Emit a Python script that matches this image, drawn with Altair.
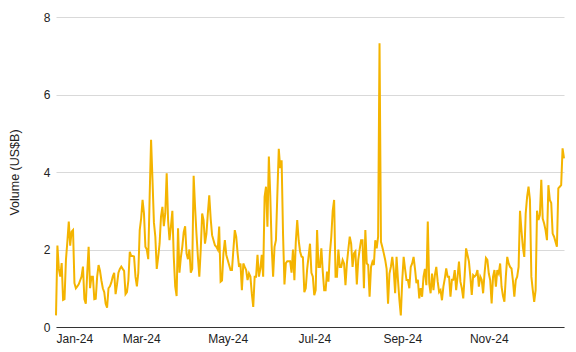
import altair as alt
import pandas as pd

jan = [0.3, 2.1, 1.5, 1.3, 1.65, 0.7, 0.72, 1.73, 2.2, 2.72, 2.1, 2.46, 2.5, 1.13, 1.0, 1.05,
       1.1, 1.2, 1.3, 1.56, 0.72, 0.6, 1.4, 2.07, 1.0, 1.3, 1.3, 0.72, 0.73, 1.3, 1.6]
feb = [1.45, 1.2, 1.0, 0.9, 0.6, 0.5, 1.0, 1.05, 1.15, 1.3, 1.4, 0.85, 1.1, 1.4, 1.5, 1.56,
       1.5, 1.45, 0.85, 0.9, 1.2, 1.94, 1.83, 1.83, 1.82, 1.3, 1.05, 1.4, 2.5]
mar = [2.8, 3.28, 2.93, 2.07, 2.0, 1.75, 3.37, 4.83, 3.8, 2.7, 2.33, 1.5, 1.8, 2.15, 2.85, 3.1,
       2.6, 2.93, 3.97, 2.75, 2.24, 2.6, 3.0, 1.8, 1.05, 0.8, 2.55, 1.4, 1.8, 2.07, 2.45]
apr = [2.6, 1.9, 1.75, 2.0, 1.4, 1.5, 3.9, 3.1, 2.4, 1.81, 1.3, 2.0, 2.93, 2.76, 2.15, 2.4,
       2.93, 3.4, 2.8, 2.37, 2.24, 2.11, 2.07, 2.0, 2.59, 1.17, 1.2, 1.9, 2.24, 1.86]
may = [1.73, 1.6, 1.47, 1.47, 1.99, 2.5, 2.33, 1.9, 1.55, 1.64, 0.95, 1.64, 1.55, 1.47, 1.21,
       1.38, 1.3, 0.86, 0.52, 1.3, 1.3, 1.86, 1.3, 1.5, 1.86, 1.3, 3.36, 3.62, 2.59, 4.4, 3.4]
jun = [2.07, 1.3, 2.07, 2.24, 3.44, 4.6, 4.1, 4.3, 2.4, 1.1, 1.65, 1.7, 1.7, 1.7, 1.4, 2.0,
       1.21, 2.2, 2.76, 2.24, 1.95, 1.82, 1.8, 0.9, 1.0, 1.5, 1.82, 2.15, 1.4, 1.3]
jul = [0.82, 0.95, 2.5, 1.55, 1.55, 2.03, 1.43, 0.95, 0.95, 1.43, 1.17, 1.9, 2.33, 3.0, 3.28,
       1.3, 1.3, 2.0, 1.55, 1.55, 1.73, 1.64, 1.08, 1.64, 2.0, 2.33, 2.15, 1.55, 1.9, 1.95, 1.1]
aug = [1.73, 2.0, 2.24, 2.24, 1.0, 2.5, 1.64, 1.6, 0.78, 1.55, 1.68, 1.6, 2.24, 2.03, 2.33,
       7.32, 2.2, 2.06, 1.9, 1.73, 1.5, 0.6, 1.38, 1.55, 1.81, 1.47, 0.87, 1.81, 1.21, 0.7, 0.3]
sep = [1.2, 1.81, 1.5, 1.21, 1.21, 1.0, 1.55, 1.64, 1.81, 1.5, 1.13, 1.22, 0.74, 1.0, 0.78,
       1.3, 1.5, 1.08, 2.72, 1.13, 0.87, 1.38, 0.95, 1.34, 1.55, 1.17, 0.9, 0.95, 0.69, 1.04]
oct_ = [1.25, 1.51, 1.3, 1.3, 0.78, 1.22, 1.22, 1.47, 0.95, 1.3, 1.69, 1.17, 1.0, 0.74, 1.34,
        2.03, 1.86, 1.69, 1.3, 0.83, 1.34, 1.3, 1.34, 1.47, 1.04, 1.3, 1.22, 0.87, 1.38, 1.78, 1.73]
nov = [1.38, 1.21, 0.61, 1.3, 1.47, 1.04, 1.47, 1.38, 1.64, 1.04, 0.8, 0.65, 1.3, 1.81, 1.64,
       1.55, 1.51, 1.2, 0.78, 1.21, 1.3, 1.55, 3.0, 2.5, 2.07, 1.81, 2.93, 3.36, 3.62, 3.28]
dec = [1.3, 0.95, 0.65, 0.95, 3.0, 2.76, 2.89, 3.8, 2.8, 2.67, 2.5, 2.24, 3.66, 3.28, 3.2,
       2.41, 2.33, 2.2, 2.07, 3.58, 3.62, 3.66, 4.61, 4.35]

values = jan + feb + mar + apr + may + jun + jul + aug + sep + oct_ + nov + dec
dates = pd.date_range("2024-01-01", periods=len(values), freq="D")
df = pd.DataFrame({"date": dates.strftime("%Y-%m-%d"), "volume": values})

last = dates[-1]
tick_months = [1, 3, 5, 7, 9, 11]
y_ticks = [0, 2, 4, 6, 8]

FONT = "Liberation Sans"

chart = alt.Chart(df).mark_line(color="#F4B400", strokeWidth=2).encode(
    x=alt.X(
        "date:T",
        title=None,
        scale=alt.Scale(
            domain=[alt.DateTime(year=2024, month=1, date=1),
                    alt.DateTime(year=last.year, month=last.month, date=last.day)],
            nice=False,
        ),
        axis=alt.Axis(
            values=[alt.DateTime(year=2024, month=m, date=1) for m in tick_months],
            format="%b-%y",
            grid=False,
            ticks=False,
            domain=True,
            domainColor="#333333",
            domainWidth=1,
            labelPadding=6,
            labelFontSize=12,
            labelColor="#222222",
            labelFont=FONT,
        ),
    ),
    y=alt.Y(
        "volume:Q",
        title="Volume (US$B)",
        scale=alt.Scale(domain=[0, 8], nice=False),
        axis=alt.Axis(
            values=y_ticks,
            grid=True,
            gridColor="#d9d9d9",
            gridWidth=1,
            domain=False,
            ticks=False,
            labelPadding=6,
            labelFontSize=12,
            labelColor="#222222",
            labelFont=FONT,
            titleFont=FONT,
            titleFontSize=12.5,
            titleFontWeight="normal",
            titleColor="#222222",
            titlePadding=22,
        ),
    ),
).properties(
    width=508,
    height=310,
    autosize=alt.AutoSizeParams(type="none"),
    padding={"left": 56, "top": 17, "right": 12, "bottom": 25},
    background="white",
).configure_view(stroke=None)

chart.save("out.html", embed_options={"renderer": "svg", "actions": False})
